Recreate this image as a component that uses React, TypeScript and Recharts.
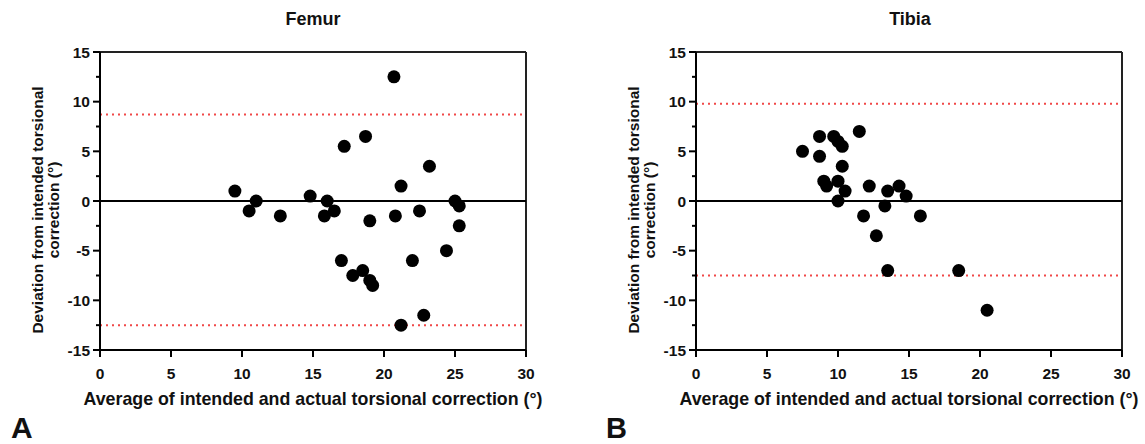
import React from "react";
import { ScatterChart, Scatter, XAxis, YAxis, ReferenceLine } from "recharts";

const FONT = "'Liberation Sans', Arial, Helvetica, sans-serif";

// Femur: average of intended and actual correction vs deviation
const femurAvg = [9.5, 10.5, 11, 12.7, 14.8, 16, 15.8, 16.5, 17.2, 17, 17.8, 18.5, 18.7, 19, 19, 19.2, 20.7, 20.8, 21.2, 21.2, 22, 22.5, 22.8, 23.2, 24.4, 25, 25.3, 25.3];
const femurDev = [1, -1, 0, -1.5, 0.5, 0, -1.5, -1, 5.5, -6, -7.5, -7, 6.5, -2, -8, -8.5, 12.5, -1.5, 1.5, -12.5, -6, -1, -11.5, 3.5, -5, 0, -0.5, -2.5];
const femurLimits = [8.7, -12.5];

// Tibia
const tibiaAvg = [7.5, 8.7, 8.7, 9, 9.2, 9.7, 10, 10.3, 10.3, 10, 10.5, 10, 11.5, 11.8, 12.2, 12.7, 13.3, 13.5, 13.5, 14.3, 14.8, 15.8, 18.5, 20.5];
const tibiaDev = [5, 6.5, 4.5, 2, 1.5, 6.5, 6, 5.5, 3.5, 2, 1, 0, 7, -1.5, 1.5, -3.5, -0.5, 1, -7, 1.5, 0.5, -1.5, -7, -11];
const tibiaLimits = [9.8, -7.5];

const xTicks = [0, 5, 10, 15, 20, 25, 30];
const yTicks = [-15, -12.5, -10, -7.5, -5, -2.5, 0, 2.5, 5, 7.5, 10, 12.5, 15];

const YTick = (props: any) => {
  const { x, y, payload } = props;
  const major = payload.value % 5 === 0;
  return (
    <g>
      <line x1={x - (major ? 7 : 4)} x2={x} y1={y} y2={y} stroke="#000" strokeWidth={2} />
      {major && (
        <text x={x - 10} y={y + 5.5} textAnchor="end" fontFamily={FONT} fontWeight="bold" fontSize={15.5} fill="#111">
          {payload.value}
        </text>
      )}
    </g>
  );
};

const XTick = (props: any) => {
  const { x, y, payload } = props;
  return (
    <g>
      <line x1={x} x2={x} y1={y} y2={y + 7} stroke="#000" strokeWidth={2} />
      <text x={x} y={y + 28.5} textAnchor="middle" fontFamily={FONT} fontWeight="bold" fontSize={15.5} fill="#111">
        {payload.value}
      </text>
    </g>
  );
};

const Dot = (p: any) => <circle cx={p.cx} cy={p.cy} r={6.5} fill="#000" />;

function Panel({ avg, dev, limits }: { avg: number[]; dev: number[]; limits: number[] }) {
  const points = avg.map((a, i) => ({ avg: a, dev: dev[i] }));
  return (
    <ScatterChart width={560} height={444} margin={{ top: 52, right: 34, left: 0, bottom: 64 }}>
      <XAxis
        type="number"
        dataKey="avg"
        domain={[0, 30]}
        ticks={xTicks}
        interval={0}
        tickSize={0}
        tickMargin={0}
        tickLine={false}
        tick={<XTick />}
        height={30}
        axisLine={{ stroke: "#000", strokeWidth: 2 }}
      />
      <YAxis
        type="number"
        dataKey="dev"
        domain={[-15, 15]}
        ticks={yTicks}
        interval={0}
        tickSize={0}
        tickMargin={0}
        tickLine={false}
        tick={<YTick />}
        width={100}
        axisLine={{ stroke: "#000", strokeWidth: 2 }}
      />
      <ReferenceLine y={15} stroke="#222" strokeWidth={2} />
      <ReferenceLine x={30} stroke="#222" strokeWidth={2} />
      {limits.map((l) => (
        <ReferenceLine key={l} y={l} stroke="#f04848" strokeWidth={2} strokeDasharray="2 4" />
      ))}
      <ReferenceLine y={0} stroke="#000" strokeWidth={2} />
      <Scatter data={points} shape={<Dot />} isAnimationActive={false} />
    </ScatterChart>
  );
}

export default function App() {
  const label = { fontFamily: FONT, fontWeight: "bold" as const, fill: "#111" };
  return (
    <div style={{ position: "absolute", left: 0, top: 0, width: 1145, height: 444, background: "#fff" }}>
      <div style={{ position: "absolute", left: 0, top: 0 }}>
        <Panel avg={femurAvg} dev={femurDev} limits={femurLimits} />
      </div>
      <div style={{ position: "absolute", left: 596, top: 0 }}>
        <Panel avg={tibiaAvg} dev={tibiaDev} limits={tibiaLimits} />
      </div>
      <svg width={1145} height={444} style={{ position: "absolute", left: 0, top: 0, pointerEvents: "none" }}>
        <text x={313} y={25} textAnchor="middle" fontSize={18} {...label}>Femur</text>
        <text x={910} y={25} textAnchor="middle" fontSize={18} {...label}>Tibia</text>

        <text x={313} y={405} textAnchor="middle" fontSize={17.8} {...label}>Average of intended and actual torsional correction (°)</text>
        <text x={909} y={405} textAnchor="middle" fontSize={17.8} {...label}>Average of intended and actual torsional correction (°)</text>

        <text transform="translate(43,210) rotate(-90)" textAnchor="middle" fontSize={15.5} {...label}>Deviation from intended torsional</text>
        <text transform="translate(59,210) rotate(-90)" textAnchor="middle" fontSize={15.5} {...label}>correction (°)</text>
        <text transform="translate(639,210) rotate(-90)" textAnchor="middle" fontSize={15.5} {...label}>Deviation from intended torsional</text>
        <text transform="translate(655,210) rotate(-90)" textAnchor="middle" fontSize={15.5} {...label}>correction (°)</text>

        <text x={11} y={438} fontSize={30} {...label}>A</text>
        <text x={606} y={438} fontSize={29} {...label}>B</text>
      </svg>
    </div>
  );
}
